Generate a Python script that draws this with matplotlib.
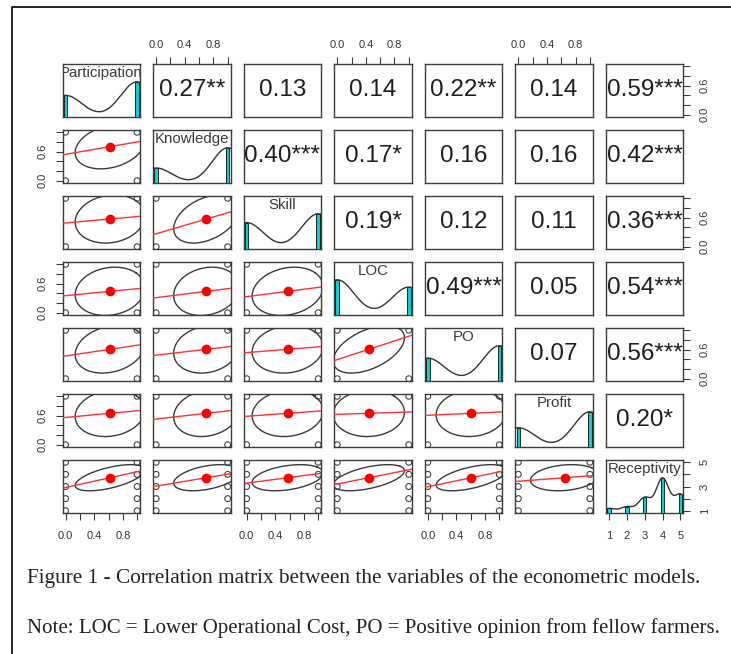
import numpy as np
import matplotlib
matplotlib.use("Agg")
import matplotlib.pyplot as plt
from matplotlib.lines import Line2D

# ---------------- data ----------------
variables = ["Participation", "Knowledge", "Skill", "LOC", "PO", "Profit", "Receptivity"]
binary_levels = [0, 1]
receptivity_levels = [1, 2, 3, 4, 5]

participation_counts = [55, 90]
knowledge_counts = [43, 102]
skill_counts = [62, 83]
loc_counts = [81, 64]
po_counts = [57, 88]
profit_counts = [51, 94]
receptivity_counts = [8, 11, 28, 64, 34]

# upper-triangle correlations (row variable vs. following variables)
cor_participation = [0.27, 0.13, 0.14, 0.22, 0.14, 0.59]
cor_knowledge = [0.40, 0.17, 0.16, 0.16, 0.42]
cor_skill = [0.19, 0.12, 0.11, 0.36]
cor_loc = [0.49, 0.05, 0.54]
cor_po = [0.07, 0.56]
cor_profit = [0.20]

stars_participation = ["**", "", "", "**", "", "***"]
stars_knowledge = ["***", "*", "", "", "***"]
stars_skill = ["*", "", "", "***"]
stars_loc = ["***", "", "***"]
stars_po = ["", "***"]
stars_profit = ["*"]

binary_ticks = [0.0, 0.2, 0.4, 0.6, 0.8, 1.0]
binary_h_labels = ["0.0", "", "0.4", "", "0.8", ""]
binary_v_labels = ["0.0", "", "", "0.6", "", ""]
receptivity_ticks = [1, 2, 3, 4, 5]
receptivity_h_labels = ["1", "2", "3", "4", "5"]
receptivity_v_labels = ["1", "", "3", "", "5"]

caption1 = "Figure 1 - Correlation matrix between the variables of the econometric models."
caption2 = "Note: LOC = Lower Operational Cost, PO = Positive opinion from fellow farmers."

# ---------------- derived ----------------
levels = [binary_levels] * 6 + [receptivity_levels]
counts = [participation_counts, knowledge_counts, skill_counts, loc_counts,
          po_counts, profit_counts, receptivity_counts]
cor_rows = [cor_participation, cor_knowledge, cor_skill, cor_loc, cor_po, cor_profit]
star_rows = [stars_participation, stars_knowledge, stars_skill, stars_loc, stars_po, stars_profit]
nv = len(variables)
R = np.eye(nv)
S = [["" for _ in range(nv)] for _ in range(nv)]
for i, (row, srow) in enumerate(zip(cor_rows, star_rows)):
    for k, (r, s) in enumerate(zip(row, srow)):
        j = i + 1 + k
        R[i, j] = R[j, i] = r
        S[i][j] = S[j][i] = s

stats = []
for lv, ct in zip(levels, counts):
    lv = np.array(lv, float); ct = np.array(ct, float)
    n = ct.sum()
    m = (lv * ct).sum() / n
    sd = np.sqrt(((lv - m) ** 2 * ct).sum() / (n - 1))
    vals = np.repeat(lv, ct.astype(int))
    iqr = np.percentile(vals, 75) - np.percentile(vals, 25)
    bw = 1.06 * min(sd, iqr / 1.34) * n ** -0.2 * 1.2
    stats.append((lv, ct, n, m, sd, bw))

def lims(k):
    lv = stats[k][0]
    rg = lv.max() - lv.min()
    return lv.min() - 0.04 * rg, lv.max() + 0.04 * rg

# ---------------- figure ----------------
W, H = 731, 654
fig = plt.figure(figsize=(W / 100, H / 100), dpi=100)
fig.patch.set_facecolor("white")

left0, pitch_x, pw = 62.7, 90.55, 77.3
top0, pitch_y, ph = 64.3, 66.0, 52.4
box_col = "#3c3c3c"
txt_col = "#333333"
tick_len = 5.0

def rect(i, j):
    l = left0 + pitch_x * j
    t = top0 + pitch_y * i
    return [l / W, 1 - (t + ph) / H, pw / W, ph / H]

def h_ticks(k):
    return (binary_ticks, binary_h_labels) if k < 6 else (receptivity_ticks, receptivity_h_labels)

def v_ticks(k):
    return (binary_ticks, binary_v_labels) if k < 6 else (receptivity_ticks, receptivity_v_labels)

for i in range(nv):
    for j in range(nv):
        ax = fig.add_axes(rect(i, j))
        ax.set_xlim(*lims(j))
        ax.set_ylim(*lims(i))
        ax.set_xticks([]); ax.set_yticks([])
        for sp in ax.spines.values():
            sp.set_color(box_col); sp.set_linewidth(1.0)
        ax.tick_params(length=tick_len, width=0.8, color=box_col,
                       labelsize=8, labelcolor=txt_col)

        if i == j:
            lv, ct, n, m, sd, bw = stats[i]
            ax2 = fig.add_axes(rect(i, j))
            ax2.set_xlim(*lims(j)); ax2.set_ylim(0, 1.5)
            ax2.axis("off")
            y = ct / ct.max()
            inter = np.min(np.diff(lv)) * (len(lv) - 1) / 41
            ax2.bar(lv, y, width=2 * inter, bottom=0, color="#00d0d8",
                    edgecolor="#222222", linewidth=0.7, align="center")
            gx = np.linspace(lv.min() - 3 * bw, lv.max() + 3 * bw, 512)
            dens = (ct[None, :] * np.exp(-0.5 * ((gx[:, None] - lv[None, :]) / bw) ** 2)).sum(1)
            dens = dens / dens.max()
            ax2.plot(gx, dens, color="#333333", lw=1.0)
            ax.text(0.5, 0.833, variables[i], transform=ax.transAxes, ha="center",
                    va="center", fontsize=10.8, color="#3a3a3a", clip_on=True,
                    family="Liberation Sans")
        elif i < j:
            ax.text(0.5, 0.5, f"{R[i, j]:.2f}{S[i][j]}", transform=ax.transAxes,
                    ha="center", va="center", fontsize=17.5, color="#1e1e1e",
                    family="Liberation Sans")
        else:
            xs = stats[j]; ys = stats[i]
            px, py = np.meshgrid(xs[0], ys[0])
            ax.scatter(px.ravel(), py.ravel(), s=18, facecolors="none",
                       edgecolors="#444444", linewidths=0.8, zorder=2)
            r = R[i, j]
            a, b = np.sqrt(1 + r), np.sqrt(1 - r)
            th = np.sign(r) / np.sqrt(2) if abs(r) > 0 else 1 / np.sqrt(2)
            t = np.arange(52) * 2 * np.pi / 51
            ex = a * th * np.cos(t) - b * th * np.sin(t)
            ey = a * th * np.cos(t) + b * th * np.sin(t)
            ax.plot(xs[3] + xs[4] * ex, ys[3] + ys[4] * ey, color="#3a3a3a", lw=1.0, zorder=3)
            ax.axline((xs[3], ys[3]), slope=r * ys[4] / xs[4], color="#ff3030", lw=1.0, zorder=4)
            ax.plot([xs[3]], [ys[3]], "o", color="red", ms=6, zorder=5)

        # outer axes, following R pairs() conventions
        if i == 0 and j % 2 == 1:
            tk, lb = h_ticks(j)
            ax.xaxis.set_ticks_position("top")
            ax.set_xticks(tk); ax.set_xticklabels(lb)
            ax.tick_params(axis="x", pad=5.0)
        if i == nv - 1 and j % 2 == 0:
            tk, lb = h_ticks(j)
            ax.xaxis.set_ticks_position("bottom")
            ax.set_xticks(tk); ax.set_xticklabels(lb)
            ax.tick_params(axis="x", pad=8.0)
        if j == 0 and i % 2 == 1:
            tk, lb = v_ticks(i)
            ax.yaxis.set_ticks_position("left")
            ax.set_yticks(tk); ax.set_yticklabels(lb, rotation=90, va="center")
            ax.tick_params(axis="y", pad=6.0)
        if j == nv - 1 and i % 2 == 0:
            tk, lb = v_ticks(i)
            ax.yaxis.set_ticks_position("right")
            ax.set_yticks(tk); ax.set_yticklabels(lb, rotation=90, va="center")
            ax.tick_params(axis="y", pad=7.0)
        for lab in ax.get_xticklabels() + ax.get_yticklabels():
            lab.set_family("Liberation Sans")

# outer frame
fig.add_artist(Line2D([12 / W, 12 / W, 1.0], [0.0, 1 - 7.3 / H, 1 - 7.3 / H],
                      transform=fig.transFigure, color="black", lw=1.2))

# captions, each fitted to the width it spans in the reference
renderer = fig.canvas.get_renderer()
for txt, yc, target_w in [(caption1, 578, 676), (caption2, 628, 692)]:
    t = fig.text(27 / W, 1 - yc / H, txt, ha="left", va="center",
                 fontsize=15.4, family="Liberation Serif", color="#222222")
    w = t.get_window_extent(renderer).width
    if w > target_w:
        t.set_fontsize(15.4 * target_w / w)

fig.savefig("out.png", dpi=100, facecolor="white")
